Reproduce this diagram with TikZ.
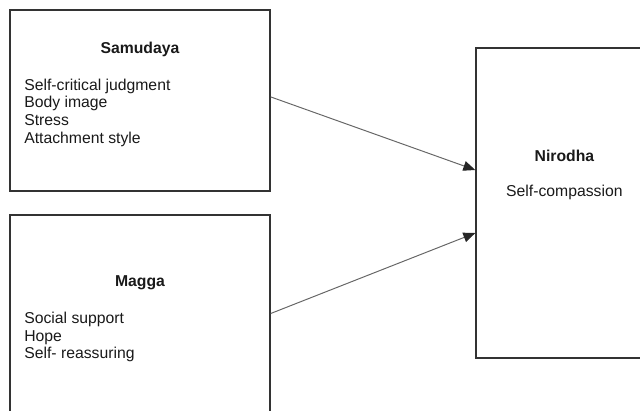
\documentclass[tikz,border=0pt]{standalone}
\usepackage{fontspec}
\setmainfont{Liberation Sans}
\usetikzlibrary{positioning,arrows.meta}

\begin{document}
\begin{tikzpicture}[
    >={Triangle[length=8.5pt,width=7pt,color=black!85]},
    % --- box styles ---
    box/.style={draw=black!80, line width=1.0pt, inner sep=0pt},
    % --- arrow styles ---
    arr/.style={->, draw=black!60, line width=0.7pt},
    % --- text styles ---
    hdr/.style={font=\fontsize{11.2}{12.6}\selectfont\bfseries, text=black!90, inner sep=0pt, anchor=base},
    lbl/.style={font=\fontsize{11.2}{12.6}\selectfont, text=black!90, align=left, inner sep=0pt},
]

%% ---- PAGE FRAME (boxes run past the lower and right edges) ----
\clip (0,0) rectangle (16,-10.25);

%% ---- BOXES ----
\node[box, minimum width=6.5cm, minimum height=4.525cm] (samu) at (3.5,-2.5125) {};
\node[box, minimum width=6.5cm, minimum height=4.925cm] (magga) at (3.5,-7.8375) {};
\node[box, minimum width=4.43cm, minimum height=7.75cm] (niro) at (14.115,-5.075) {};

%% ---- SAMUDAYA ----
\node[hdr] (samuhd) at (3.5,-1.34) {Samudaya};
\node[lbl, anchor=north west] (samulst) at (0.6,-1.96)
    {Self-critical judgment\\Body image\\Stress\\Attachment style};

%% ---- MAGGA ----
\node[hdr] (maggahd) at (3.5,-7.15) {Magga};
\node[lbl, anchor=north west] (maggalst) at (0.6,-7.79)
    {Social support\\Hope\\Self- reassuring};

%% ---- NIRODHA ----
\node[hdr] (nirohd) at (14.11,-4.03) {Nirodha};
\node[lbl, anchor=base] (nirotxt) at (14.11,-4.92) {Self-compassion};

%% ---- ARROWS ----
\draw[arr] ([yshift=0.09cm]samu.east) -- ([yshift=0.825cm]niro.west);
\draw[arr] (magga.east) -- ([yshift=-0.75cm]niro.west);

\end{tikzpicture}
\end{document}
